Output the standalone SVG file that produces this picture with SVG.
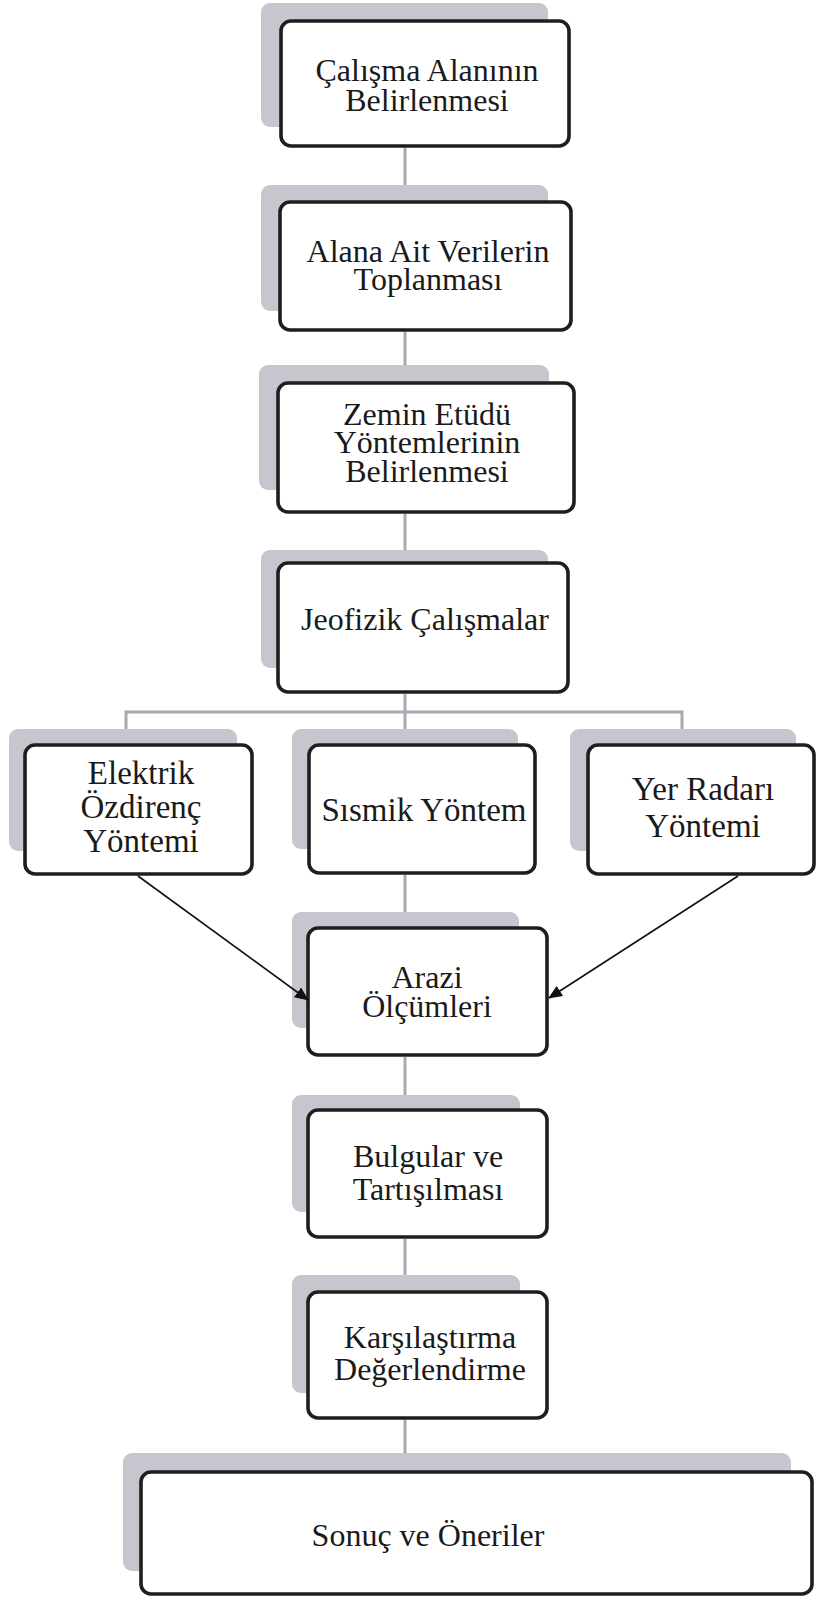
<svg xmlns="http://www.w3.org/2000/svg" width="816" height="1598" viewBox="0 0 816 1598">
<defs>
<style>
.sh{fill:#c6c6ce;stroke:none}
.bx{fill:#ffffff;stroke:#1e1e1e;stroke-width:3.6}
.t{font-family:"Liberation Serif","Times New Roman",serif;font-size:32px;fill:#1a1a1a;text-anchor:middle}
.tc{font-family:"Liberation Serif","Times New Roman",serif;font-size:33px;fill:#1a1a1a;text-anchor:middle}
.cn{stroke:#a9a9b1;stroke-width:3;fill:none}
.ar{stroke:#111111;stroke-width:1.6;fill:none}
</style>
<marker id="ah" viewBox="0 0 14 12" refX="13" refY="6" markerWidth="14" markerHeight="12" markerUnits="userSpaceOnUse" orient="auto">
<path d="M0,0 L14,6 L0,12 Z" fill="#111111"/>
</marker>
</defs>
<rect width="816" height="1598" fill="#ffffff"/>
<g id="n1">
<rect class="sh" x="261" y="3" width="287" height="124" rx="9"/>
<rect class="bx" x="281" y="21" width="288" height="125" rx="10"/>
<text class="t" x="427" y="81">Çalışma Alanının</text>
<text class="t" x="427" y="111">Belirlenmesi</text>
</g>
<g id="n2">
<rect class="sh" x="261" y="185" width="287" height="126" rx="9"/>
<rect class="bx" x="280" y="202" width="291" height="128" rx="10"/>
<text class="t" x="428" y="262">Alana Ait Verilerin</text>
<text class="t" x="428" y="290">Toplanması</text>
</g>
<g id="n3">
<rect class="sh" x="259" y="365" width="290" height="125" rx="9"/>
<rect class="bx" x="278" y="383" width="296" height="129" rx="10"/>
<text class="t" x="427" y="425">Zemin Etüdü</text>
<text class="t" x="427" y="453">Yöntemlerinin</text>
<text class="t" x="427" y="482">Belirlenmesi</text>
</g>
<g id="n4">
<rect class="sh" x="261" y="550" width="287" height="118" rx="9"/>
<rect class="bx" x="278" y="563" width="290" height="129" rx="10"/>
<text class="t" x="425" y="630">Jeofizik Çalışmalar</text>
</g>
<g id="n5">
<rect class="sh" x="9" y="729" width="228" height="122" rx="9"/>
<rect class="bx" x="25" y="745" width="227" height="129" rx="10"/>
<text class="tc" x="141" y="784">Elektrik</text>
<text class="tc" x="141" y="818">Özdirenç</text>
<text class="tc" x="141" y="852">Yöntemi</text>
</g>
<g id="n6">
<rect class="sh" x="292" y="729" width="226" height="120" rx="9"/>
<rect class="bx" x="309" y="745" width="226" height="128" rx="10"/>
<text class="tc" x="424" y="821">Sısmik Yöntem</text>
</g>
<g id="n7">
<rect class="sh" x="570" y="729" width="226" height="122" rx="9"/>
<rect class="bx" x="588" y="745" width="226" height="129" rx="10"/>
<text class="tc" x="703" y="800">Yer Radarı</text>
<text class="tc" x="703" y="837">Yöntemi</text>
</g>
<g id="n8">
<rect class="sh" x="292" y="912" width="227" height="116" rx="9"/>
<rect class="bx" x="308" y="928" width="239" height="127" rx="10"/>
<text class="t" x="427" y="988">Arazi</text>
<text class="t" x="427" y="1017">Ölçümleri</text>
</g>
<g id="n9">
<rect class="sh" x="292" y="1095" width="228" height="117" rx="9"/>
<rect class="bx" x="308" y="1110" width="239" height="127" rx="10"/>
<text class="t" x="428" y="1167">Bulgular ve</text>
<text class="t" x="428" y="1200">Tartışılması</text>
</g>
<g id="n10">
<rect class="sh" x="292" y="1275" width="228" height="118" rx="9"/>
<rect class="bx" x="308" y="1292" width="239" height="126" rx="10"/>
<text class="t" x="430" y="1348">Karşılaştırma</text>
<text class="t" x="430" y="1380">Değerlendirme</text>
</g>
<g id="n11">
<rect class="sh" x="123" y="1453" width="668" height="118" rx="9"/>
<rect class="bx" x="141" y="1472" width="671" height="122" rx="10"/>
<text class="t" x="428" y="1546">Sonuç ve Öneriler</text>
</g>
<g id="connectors">
<line class="cn" x1="405" y1="148" x2="405" y2="185"/>
<line class="cn" x1="405" y1="332" x2="405" y2="365"/>
<line class="cn" x1="405" y1="514" x2="405" y2="550"/>
<line class="cn" x1="405" y1="694" x2="405" y2="712"/>
<polyline class="cn" points="126,729 126,712 682,712 682,729"/>
<line class="cn" x1="405" y1="712" x2="405" y2="729"/>
<line class="cn" x1="405" y1="875" x2="405" y2="912"/>
<line class="cn" x1="405" y1="1057" x2="405" y2="1095"/>
<line class="cn" x1="405" y1="1239" x2="405" y2="1275"/>
<line class="cn" x1="405" y1="1420" x2="405" y2="1453"/>
<line class="ar" x1="138" y1="876" x2="308" y2="1000" marker-end="url(#ah)"/>
<line class="ar" x1="738" y1="876" x2="549" y2="998" marker-end="url(#ah)"/>
</g>
</svg>
